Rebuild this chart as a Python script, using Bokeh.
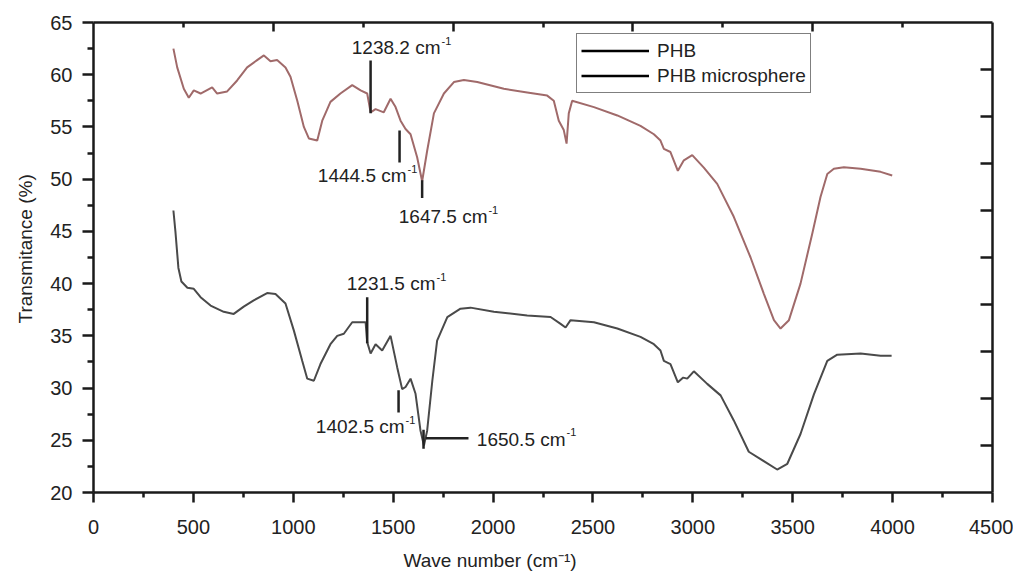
import math
from bokeh.plotting import figure
from bokeh.models import (Range1d, LinearAxis, FixedTicker, Legend, LegendItem,
                          Title, ColumnDataSource, CustomJSTickFormatter)
from bokeh.core.properties import value
from bokeh.embed import file_html
from bokeh.resources import INLINE

# ---------------- data ----------------
upper_x = [400, 419, 452, 477, 502, 536, 594, 619, 669, 719, 769, 819, 853, 886, 919,
           961, 986, 1020, 1053, 1078, 1120, 1145, 1161, 1186, 1236, 1295, 1337, 1370,
           1387, 1412, 1453, 1487, 1512, 1537, 1562, 1587, 1620, 1645, 1670, 1704, 1754,
           1804, 1854, 1921, 2054, 2171, 2271, 2304, 2329, 2354, 2368, 2379, 2396, 2505,
           2622, 2738, 2805, 2838, 2855, 2888, 2925, 2955, 2997, 3055, 3122, 3205, 3289,
           3356, 3406, 3439, 3481, 3539, 3598, 3639, 3673, 3706, 3756, 3840, 3940, 3998]
upper_y = [62.5, 60.7, 58.65, 57.8, 58.5, 58.2, 58.8, 58.2, 58.4, 59.45, 60.7, 61.4, 61.85,
           61.3, 61.4, 60.7, 59.8, 57.5, 55.0, 53.9, 53.7, 55.6, 56.3, 57.4, 58.2, 59.0,
           58.5, 58.2, 56.4, 56.7, 56.4, 57.7, 56.9, 55.6, 54.8, 54.3, 52.1, 49.8, 52.7,
           56.3, 58.2, 59.3, 59.5, 59.3, 58.65, 58.3, 58.0, 57.5, 55.6, 54.7, 53.4, 56.3,
           57.5, 56.9, 56.1, 55.1, 54.3, 53.7, 52.9, 52.6, 50.8, 51.8, 52.3, 51.1, 49.55,
           46.4, 42.5, 39.0, 36.5, 35.7, 36.5, 40.0, 44.8, 48.3, 50.5, 51.0, 51.15, 51.0,
           50.7, 50.35]

lower_x = [400, 410, 425, 440, 470, 502, 536, 586, 652, 702, 752, 802, 869, 911, 961,
           1003, 1045, 1070, 1103, 1136, 1186, 1220, 1253, 1295, 1337, 1362, 1370, 1387,
           1412, 1445, 1487, 1520, 1545, 1562, 1587, 1612, 1637, 1654, 1670, 1696, 1720,
           1771, 1837, 1887, 2004, 2171, 2288, 2338, 2363, 2388, 2505, 2622, 2738, 2805,
           2838, 2855, 2888, 2925, 2952, 2972, 3005, 3072, 3139, 3205, 3280, 3339, 3422,
           3473, 3539, 3606, 3673, 3723, 3840, 3940, 3995]
lower_y = [47.0, 45.0, 41.5, 40.2, 39.6, 39.5, 38.7, 37.9, 37.3, 37.1, 37.8, 38.4, 39.1,
           39.0, 38.1, 35.5, 32.6, 30.9, 30.7, 32.3, 34.2, 35.0, 35.2, 36.3, 36.3, 36.3,
           34.4, 33.3, 34.2, 33.6, 35.0, 32.0, 29.9, 30.1, 30.9, 29.45, 25.9, 24.5, 25.9,
           30.7, 34.55, 36.8, 37.6, 37.7, 37.3, 36.95, 36.8, 36.15, 35.8, 36.5, 36.3, 35.7,
           34.9, 34.2, 33.6, 32.6, 32.3, 30.55, 31.0, 30.9, 31.6, 30.4, 29.3, 26.9, 23.9,
           23.2, 22.2, 22.75, 25.6, 29.4, 32.6, 33.2, 33.3, 33.1, 33.1]

legend_labels = ["PHB", "PHB microsphere"]
x_title = "Wave number (cm\u207b\u00b9)"
y_title = "Transmitance (%)"

ann_text = ["1238.2 cm", "1444.5 cm", "1647.5 cm", "1231.5 cm", "1402.5 cm", "1650.5 cm"]
ann_x = [1737, 1567, 1972, 1712, 1557, 2363]
ann_y = [62.6, 50.35, 46.4, 40.0, 26.3, 25.1]
ann_sup = ["-1"] * 6

mk_x0 = [1387, 1532, 1645, 1370, 1527, 1662, 1652]
mk_y0 = [61.35, 54.65, 49.9, 38.7, 29.8, 25.2, 26.0]
mk_x1 = [1387, 1532, 1645, 1370, 1527, 1877, 1652]
mk_y1 = [56.3, 51.6, 48.2, 34.3, 27.65, 25.2, 24.2]

x_major = [0, 500, 1000, 1500, 2000, 2500, 3000, 3500, 4000, 4500]
x_minor = [250, 750, 1250, 1750, 2250, 2750, 3250, 3750, 4250]
y_major = [20, 25, 30, 35, 40, 45, 50, 55, 60, 65]
y_minor = [22.5, 27.5, 32.5, 37.5, 42.5, 47.5, 52.5, 57.5, 62.5]
top_major = [900, 1800, 2700, 3600]
top_minor = [450, 1350, 2250, 3150, 4050]
right_major = [24.5, 29, 33.5, 38, 42.5, 47, 51.5, 56, 60.5]

FONT = "Liberation Sans"
INK = "#1a1a1a"
TXT = "#222222"

# ---------------- figure ----------------
p = figure(width=1013, height=581, x_range=Range1d(0, 4500), y_range=Range1d(20, 65),
           output_backend="svg", toolbar_location=None,
           min_border_left=93, min_border_right=21, min_border_top=22, min_border_bottom=89)
p.xgrid.visible = False
p.ygrid.visible = False
p.outline_line_color = None
p.background_fill_color = "white"
p.border_fill_color = "white"


def style_axis(ax, major_in, major_out, minor_in, minor_out, labels=True):
    ax.axis_line_color = INK
    ax.axis_line_width = 2.5
    ax.major_tick_line_color = INK
    ax.major_tick_line_width = 2.5
    ax.minor_tick_line_color = INK
    ax.minor_tick_line_width = 2.5
    ax.major_tick_in = major_in
    ax.major_tick_out = major_out
    ax.minor_tick_in = minor_in
    ax.minor_tick_out = minor_out
    if labels:
        ax.major_label_text_font = FONT
        ax.major_label_text_font_size = "20px"
        ax.major_label_text_color = TXT
    else:
        ax.formatter = CustomJSTickFormatter(code="return '';")
        ax.major_label_standoff = 0


xa = p.xaxis[0]
xa.ticker = FixedTicker(ticks=x_major, minor_ticks=x_minor)
style_axis(xa, 0, 10, 0, 5)
xa.major_label_standoff = 17

ya = p.yaxis[0]
ya.ticker = FixedTicker(ticks=y_major, minor_ticks=y_minor)
style_axis(ya, 0, 11, 0, 6)
ya.major_label_standoff = 10

top = LinearAxis(ticker=FixedTicker(ticks=top_major, minor_ticks=top_minor))
style_axis(top, 9, 0, 5, 0, labels=False)
p.add_layout(top, "above")

right = LinearAxis(ticker=FixedTicker(ticks=right_major, minor_ticks=[]))
style_axis(right, 12, 0, 0, 0, labels=False)
p.add_layout(right, "right")

# ---------------- axis titles ----------------
p.add_layout(Title(text=x_title, align="left", offset=310, standoff=22,
                   text_font=FONT, text_font_size="19px", text_font_style="normal",
                   text_color=TXT), "below")
p.add_layout(Title(text=y_title, align="left", offset=169, standoff=24,
                   text_font=FONT, text_font_size="19px", text_font_style="normal",
                   text_color=TXT), "left")

# ---------------- curves ----------------
p.line(upper_x, upper_y, line_color="#a06a6a", line_width=2)
p.line(lower_x, lower_y, line_color="#4a4a4a", line_width=2)

# ---------------- annotations ----------------
p.segment(x0=mk_x0, y0=mk_y0, x1=mk_x1, y1=mk_y1, line_color=TXT, line_width=2.5)

ann_src = ColumnDataSource(dict(x=ann_x, y=ann_y, t=ann_text, s=ann_sup))
p.text(x="x", y="y", text="t", source=ann_src, text_align="right", text_baseline="middle",
       text_font=value(FONT), text_font_size="19px", text_color=TXT)
p.text(x="x", y="y", text="s", source=ann_src, text_align="left", text_baseline="middle",
       text_font=value(FONT), text_font_size="11px", text_color=TXT,
       x_offset=1, y_offset=-7)

# ---------------- legend ----------------
# legend swatches: black lines (kept off-canvas so only the legend shows them)
d1 = p.line([-1000, -900], [0, 0], line_color="black", line_width=2.5)
d2 = p.line([-1000, -900], [0, 0], line_color="black", line_width=2.5)
legend = Legend(items=[LegendItem(label=legend_labels[0], renderers=[d1]),
                       LegendItem(label=legend_labels[1], renderers=[d2])],
                location=(483, 399), padding=4, spacing=0, margin=0,
                glyph_width=68, glyph_height=25, label_height=25, label_standoff=8,
                label_text_font=FONT, label_text_font_size="19px",
                label_text_color=TXT, border_line_color="black",
                border_line_width=1.2, background_fill_color="white",
                background_fill_alpha=1.0)
p.add_layout(legend)

open("out.html", "w").write(file_html(p, INLINE))
